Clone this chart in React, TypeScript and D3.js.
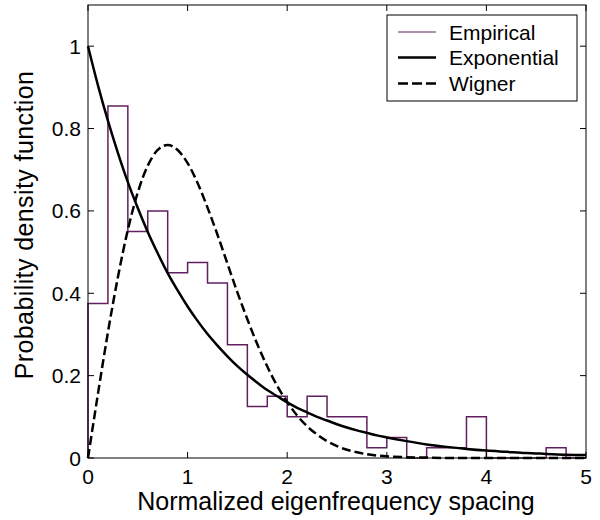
import React from "react";
import * as d3 from "d3";

// Histogram bin edges (width 0.2) and heights
const binEdges = [0, 0.2, 0.4, 0.6, 0.8, 1.0, 1.2, 1.4, 1.6, 1.8, 2.0, 2.2, 2.4, 2.6, 2.8, 3.0, 3.2, 3.4, 3.6, 3.8, 4.0, 4.2, 4.4, 4.6, 4.8, 5.0];
const empirical = [0.375, 0.855, 0.55, 0.6, 0.45, 0.475, 0.425, 0.275, 0.125, 0.15, 0.1, 0.15, 0.1, 0.1, 0.025, 0.05, 0, 0.025, 0.025, 0.1, 0, 0, 0, 0.025, 0];

// Sample positions for the theoretical curves
const curveX = [0, 0.1, 0.2, 0.3, 0.4, 0.5, 0.6, 0.7, 0.8, 0.9, 1.0, 1.1, 1.2, 1.3, 1.4, 1.5, 1.6, 1.7, 1.8, 1.9, 2.0, 2.1, 2.2, 2.3, 2.4, 2.5, 2.6, 2.7, 2.8, 2.9, 3.0, 3.2, 3.4, 3.6, 3.8, 4.0, 4.2, 4.4, 4.6, 4.8, 5.0];
const exponential = [1.0, 0.905, 0.819, 0.741, 0.670, 0.607, 0.549, 0.497, 0.449, 0.407, 0.368, 0.333, 0.301, 0.273, 0.247, 0.223, 0.202, 0.183, 0.165, 0.150, 0.135, 0.122, 0.111, 0.100, 0.091, 0.082, 0.074, 0.067, 0.061, 0.055, 0.050, 0.041, 0.033, 0.027, 0.022, 0.018, 0.015, 0.012, 0.010, 0.008, 0.007];
const wigner = [0, 0.156, 0.305, 0.439, 0.554, 0.645, 0.710, 0.748, 0.760, 0.748, 0.716, 0.668, 0.608, 0.542, 0.472, 0.402, 0.337, 0.276, 0.222, 0.175, 0.136, 0.103, 0.077, 0.057, 0.041, 0.029, 0.020, 0.014, 0.009, 0.006, 0.004, 0.002, 0.001, 0, 0, 0, 0, 0, 0, 0, 0];

const xTicks = [0, 1, 2, 3, 4, 5];
const yTicks = [0, 0.2, 0.4, 0.6, 0.8, 1];
const legendLabels = ["Empirical", "Exponential", "Wigner"];

const PURPLE = "#602060";

export default function App() {
  const left = 88, right = 586, top = 5, bottom = 458;
  const x = d3.scaleLinear().domain([0, 5]).range([left, right]);
  const y = d3.scaleLinear().domain([0, 1.1]).range([bottom, top]);

  // stairs path
  let hist = `M${x(binEdges[0])},${y(0)}`;
  empirical.forEach((v, i) => {
    hist += `V${y(v)}H${x(binEdges[i + 1])}`;
  });
  hist += `V${y(0)}`;

  const line = d3
    .line<number>()
    .x((_, i) => x(curveX[i]))
    .y((d) => y(d))
    .curve(d3.curveMonotoneX);

  const tickLen = 6;
  const font = "'Liberation Sans', Arial, sans-serif";

  const legX = 387, legY = 15, legW = 190, legH = 86;
  const rows = [32, 57.5, 83.5];

  return (
    <svg
      width={600}
      height={520}
      style={{ position: "fixed", left: 0, top: 0, background: "#fff" }}
      fontFamily={font}
    >
      <rect x={0} y={0} width={600} height={520} fill="#fff" />
      {/* histogram */}
      <path d={hist} fill="none" stroke={PURPLE} strokeWidth={1.5} />
      {/* exponential */}
      <path d={line(exponential) || ""} fill="none" stroke="#000" strokeWidth={2.5} />
      {/* wigner */}
      <path d={line(wigner) || ""} fill="none" stroke="#000" strokeWidth={2.5} strokeDasharray="9,4" />

      {/* box */}
      <rect x={left} y={top} width={right - left} height={bottom - top} fill="none" stroke="#000" strokeWidth={1} />

      {/* x ticks */}
      {xTicks.map((t) => (
        <g key={"x" + t}>
          <line x1={x(t)} x2={x(t)} y1={bottom} y2={bottom - tickLen} stroke="#000" />
          <line x1={x(t)} x2={x(t)} y1={top} y2={top + tickLen} stroke="#000" />
          <text x={x(t)} y={484} fontSize={21} textAnchor="middle" fill="#000">
            {t}
          </text>
        </g>
      ))}
      {/* y ticks */}
      {yTicks.map((t) => (
        <g key={"y" + t}>
          <line x1={left} x2={left + tickLen} y1={y(t)} y2={y(t)} stroke="#000" />
          <line x1={right} x2={right - tickLen} y1={y(t)} y2={y(t)} stroke="#000" />
          <text x={81} y={y(t) + 7.5} fontSize={21} textAnchor="end" fill="#000">
            {t}
          </text>
        </g>
      ))}

      {/* axis labels */}
      <text x={(left + right) / 2 - 1} y={510} fontSize={25} textAnchor="middle" fill="#000">
        Normalized eigenfrequency spacing
      </text>
      <text
        transform={`translate(33,${225}) rotate(-90)`}
        fontSize={25}
        textAnchor="middle"
        letterSpacing={0.4}
        fill="#000"
      >
        Probability density function
      </text>

      {/* legend */}
      <rect x={legX} y={legY} width={legW} height={legH} fill="#fff" stroke="#000" strokeWidth={1} />
      <line x1={398} x2={436} y1={rows[0]} y2={rows[0]} stroke={PURPLE} strokeWidth={1} />
      <line x1={398} x2={436} y1={rows[1]} y2={rows[1]} stroke="#000" strokeWidth={2.5} />
      <line x1={398} x2={436} y1={rows[2]} y2={rows[2]} stroke="#000" strokeWidth={2.5} strokeDasharray="10,4" />
      {legendLabels.map((l, i) => (
        <text key={l} x={449} y={rows[i] + 7.5} fontSize={21} fill="#000">
          {l}
        </text>
      ))}
    </svg>
  );
}
